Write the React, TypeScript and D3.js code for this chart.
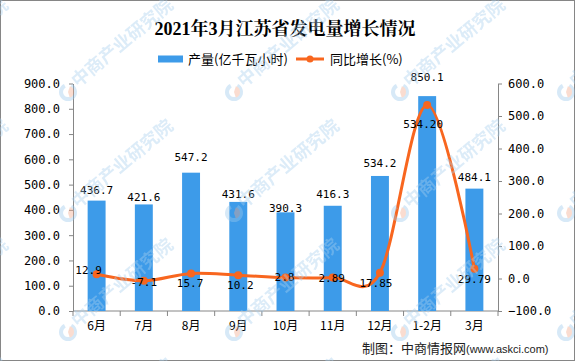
import React, { useEffect, useRef } from 'react';
import * as d3 from 'd3';

const months = ['6月', '7月', '8月', '9月', '10月', '11月', '12月', '1-2月', '3月'];
const output = [436.7, 421.6, 547.2, 431.6, 390.3, 416.3, 534.2, 850.1, 484.1];
const growth = [12.9, -7.1, 15.7, 10.2, 2.8, 2.89, 17.85, 534.2, 29.79];
const growthLabels = ['12.9', '-7.1', '15.7', '10.2', '2.8', '2.89', '17.85', '534.20', '29.79'];
const leftTicks = [0, 100, 200, 300, 400, 500, 600, 700, 800, 900];
const rightTicks = [-100, 0, 100, 200, 300, 400, 500, 600];

// label nudges, as placed by hand in the source chart
const barLabelGap = [10, 7, 16, 8, 4, 12, 13, 19, 11];
const lineLabelDx = [-8, 0, -1, 2, -1, -1, -4, -4, 0];
const lineLabelDy = [-4, 1, 10, 10, 0, 1, 10, 19, 10];

const BLUE = '#3d9be9';
const ORANGE = '#f8661f';
const AXIS = '#868686';
const MONO = "'DejaVu Sans Mono', monospace";
const CJK = "'Noto Sans CJK SC', sans-serif";

const wmCols = [-97, 68, 234, 400, 566];
const wmRows = [-30, 92, 213, 332, 452];

export default function App() {
  const ref = useRef<SVGSVGElement>(null);

  useEffect(() => {
    const width = 575;
    const height = 361;
    const plot = { left: 73, right: 498, top: 83.5, bottom: 311 };

    const svg = d3.select(ref.current);
    svg.selectAll('*').remove();

    svg.append('rect')
      .attr('x', 0.5).attr('y', 0.5)
      .attr('width', width - 1).attr('height', height - 1)
      .attr('fill', '#fff')
      .attr('stroke', AXIS);

    const x = d3.scaleBand().domain(months).range([plot.left, plot.right]);
    const yL = d3.scaleLinear().domain([0, 900]).range([plot.bottom, plot.top]);
    const yR = d3.scaleLinear().domain([-100, 600]).range([plot.bottom, plot.top]);
    const barW = x.bandwidth() * 0.38;
    const cx = (m: string) => (x(m) as number) + x.bandwidth() / 2;

    // title
    svg.append('text')
      .attr('x', 285).attr('y', 35)
      .attr('text-anchor', 'middle')
      .style('font-family', "'Liberation Serif', 'Noto Serif CJK SC', 'Noto Sans CJK SC', serif")
      .style('font-weight', 'bold')
      .style('font-size', '18px')
      .text('2021年3月江苏省发电量增长情况');

    // legend
    const lg = svg.append('g').style('font-family', CJK).style('font-size', '13px');
    lg.append('rect').attr('x', 158).attr('y', 55.5).attr('width', 25).attr('height', 7).attr('fill', BLUE);
    lg.append('text').attr('x', 188).attr('y', 64).text('产量(亿千瓦小时)');
    lg.append('line').attr('x1', 296).attr('x2', 324).attr('y1', 59).attr('y2', 59)
      .attr('stroke', ORANGE).attr('stroke-width', 3);
    lg.append('circle').attr('cx', 310).attr('cy', 59).attr('r', 3.5).attr('fill', ORANGE);
    lg.append('text').attr('x', 330).attr('y', 64).text('同比增长(%)');

    // axes
    const styleAxis = (g: any) => {
      g.selectAll('path, line').attr('stroke', AXIS);
      g.selectAll('text').attr('fill', '#000');
    };

    svg.append('g')
      .attr('transform', `translate(${plot.left},0)`)
      .call(d3.axisLeft(yL).tickValues(leftTicks).tickSize(4).tickSizeOuter(0).tickPadding(9)
        .tickFormat((d: any) => d3.format('.1f')(d)))
      .style('font-family', MONO).style('font-size', '12px')
      .call(styleAxis);

    svg.append('g')
      .attr('transform', `translate(${plot.right},0)`)
      .call(d3.axisRight(yR).tickValues(rightTicks).tickSize(4).tickSizeOuter(0).tickPadding(6)
        .tickFormat((d: any) => d3.format('.1f')(d)))
      .style('font-family', MONO).style('font-size', '12px')
      .call(styleAxis);

    const xg = svg.append('g')
      .attr('transform', `translate(0,${plot.bottom})`)
      .call(d3.axisBottom(x).tickSize(0).tickPadding(10))
      .style('font-family', CJK).style('font-size', '12px')
      .call(styleAxis);
    xg.select('.domain').remove();
    xg.append('line')
      .attr('x1', plot.left).attr('x2', plot.right)
      .attr('stroke', AXIS);
    xg.selectAll('.bound')
      .data([...months.map((m) => x(m) as number), plot.right])
      .enter().append('line')
      .attr('class', 'bound')
      .attr('x1', (d) => d).attr('x2', (d) => d)
      .attr('y1', 0).attr('y2', 5)
      .attr('stroke', AXIS);

    // bars
    svg.append('g').selectAll('rect')
      .data(output)
      .enter().append('rect')
      .attr('x', (d, i) => cx(months[i]) - barW / 2)
      .attr('width', barW)
      .attr('y', (d) => yL(d))
      .attr('height', (d) => plot.bottom - yL(d))
      .attr('fill', BLUE);

    svg.append('g').selectAll('text')
      .data(output)
      .enter().append('text')
      .attr('x', (d, i) => cx(months[i]))
      .attr('y', (d, i) => yL(d) - barLabelGap[i])
      .attr('dy', '0.35em')
      .attr('text-anchor', 'middle')
      .style('font-family', MONO).style('font-size', '11px')
      .text((d) => d.toFixed(1));

    // growth line
    const line = d3.line<number>()
      .x((d, i) => cx(months[i]))
      .y((d) => yR(d))
      .curve(d3.curveCatmullRom.alpha(0));

    svg.append('path')
      .datum(growth)
      .attr('d', line)
      .attr('fill', 'none')
      .attr('stroke', ORANGE)
      .attr('stroke-width', 3);

    svg.append('g').selectAll('circle')
      .data(growth)
      .enter().append('circle')
      .attr('cx', (d, i) => cx(months[i]))
      .attr('cy', (d) => yR(d))
      .attr('r', 4)
      .attr('fill', ORANGE);

    svg.append('g').selectAll('text')
      .data(growth)
      .enter().append('text')
      .attr('x', (d, i) => cx(months[i]) + lineLabelDx[i])
      .attr('y', (d, i) => yR(d) + lineLabelDy[i])
      .attr('dy', '0.35em')
      .attr('text-anchor', 'middle')
      .style('font-family', MONO).style('font-size', '11px')
      .text((d, i) => growthLabels[i]);

    // footnote
    const fn = svg.append('text').attr('x', 362).attr('y', 353).attr('fill', '#222');
    fn.append('tspan').style('font-family', CJK).style('font-size', '13px').text('制图：中商情报网');
    fn.append('tspan').style('font-family', "'Liberation Sans', sans-serif").style('font-size', '11px')
      .text('(www.askci.com)');

    // watermark
    const wm = svg.append('g').attr('pointer-events', 'none').attr('opacity', 0.4);
    wmRows.forEach((ry) => {
      wmCols.forEach((rx) => {
        const g = wm.append('g').attr('transform', `translate(${rx},${ry})`);
        g.append('path')
          .attr('d', d3.arc()({ innerRadius: 5, outerRadius: 9, startAngle: Math.PI * 0.15, endAngle: Math.PI * 1.85 }) as string)
          .attr('fill', '#9cc8ec');
        g.append('path')
          .attr('d', d3.arc()({ innerRadius: 0, outerRadius: 6, startAngle: Math.PI * 0.1, endAngle: Math.PI * 0.9 }) as string)
          .attr('fill', '#f3a98a');
        g.append('text')
          .attr('transform', 'translate(10,-4) rotate(-40)')
          .style('font-family', CJK)
          .style('font-weight', 'bold')
          .style('font-size', '18px')
          .attr('fill', '#a9cfee')
          .text('中商产业研究院');
      });
    });
  }, []);

  return (
    <svg ref={ref} width={575} height={361} style={{ position: 'absolute', left: 0, top: 0 }} />
  );
}
